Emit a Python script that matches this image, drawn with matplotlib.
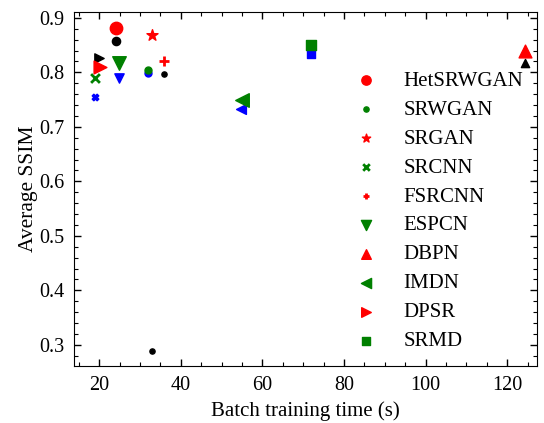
import numpy as np
import matplotlib
matplotlib.use('Agg')
import matplotlib.pyplot as plt
from matplotlib.ticker import MultipleLocator

plt.rcParams['font.family'] = 'Liberation Serif'
plt.rcParams['mathtext.fontset'] = 'stix'

# main models (in legend)
models = ['HetSRWGAN', 'SRWGAN', 'SRGAN', 'SRCNN', 'FSRCNN',
          'ESPCN', 'DBPN', 'IMDN', 'DPSR', 'SRMD']
main_time = [24.0, 32.0, 33.0, 19.0, 35.9, 24.8, 124.3, 55.1, 20.2, 72.0]
main_ssim = [0.8815, 0.805, 0.869, 0.790, 0.821, 0.818, 0.8385, 0.750, 0.810, 0.851]
main_color = ['red', 'green', 'red', 'green', 'red',
              'green', 'red', 'green', 'red', 'green']
main_marker = ['o', 'o', '*', 'x', '+', 'v', '^', '<', '>', 's']
main_size = [80, 25, 70, 40, 45, 95, 85, 95, 85, 60]

# second group (blue)
blue_time = [32.0, 19.0, 24.8, 54.8, 72.0]
blue_ssim = [0.799, 0.754, 0.790, 0.733, 0.833]
blue_marker = ['o', 'X', 'v', '<', 's']
blue_size = [25, 22, 45, 50, 30]

# third group (black)
black_time = [24.0, 20.0, 35.9, 33.0, 124.3]
black_ssim = [0.857, 0.826, 0.797, 0.289, 0.817]
black_marker = ['o', '>', 'o', 'o', '^']
black_size = [35, 45, 14, 14, 35]

fig = plt.figure(figsize=(5.44, 4.23), dpi=100)
ax = fig.add_axes([0.136, 0.135, 0.852, 0.837])

for t, s, m, sz in zip(blue_time, blue_ssim, blue_marker, blue_size):
    ax.scatter(t, s, marker=m, s=sz, color='blue', zorder=2)
for t, s, m, sz in zip(black_time, black_ssim, black_marker, black_size):
    ax.scatter(t, s, marker=m, s=sz, color='black', zorder=2)
for name, t, s, c, m, sz in zip(models, main_time, main_ssim, main_color, main_marker, main_size):
    lw = 2 if m in ('x', '+') else None
    ax.scatter(t, s, marker=m, s=sz, color=c, label=name, linewidths=lw, zorder=3)

ax.set_xlim(13.8, 127.4)
ax.set_ylim(0.2615, 0.911)
ax.xaxis.set_major_locator(MultipleLocator(20))
ax.xaxis.set_minor_locator(MultipleLocator(5))
ax.yaxis.set_major_locator(MultipleLocator(0.1))
ax.yaxis.set_minor_locator(MultipleLocator(0.02))
ax.tick_params(which='both', direction='in', top=True, right=True, labelsize=14.5)
ax.tick_params(which='major', length=5, width=1, pad=7)
ax.tick_params(which='minor', length=3, width=0.8)

ax.set_xlabel('Batch training time (s)', fontsize=15, labelpad=5)
ax.set_ylabel('Average SSIM', fontsize=15.5, labelpad=1)

ax.legend(loc='lower right', frameon=False, fontsize=15, markerscale=0.75,
          labelspacing=0.45, borderaxespad=0.3)

fig.savefig('out.png', dpi=100)
